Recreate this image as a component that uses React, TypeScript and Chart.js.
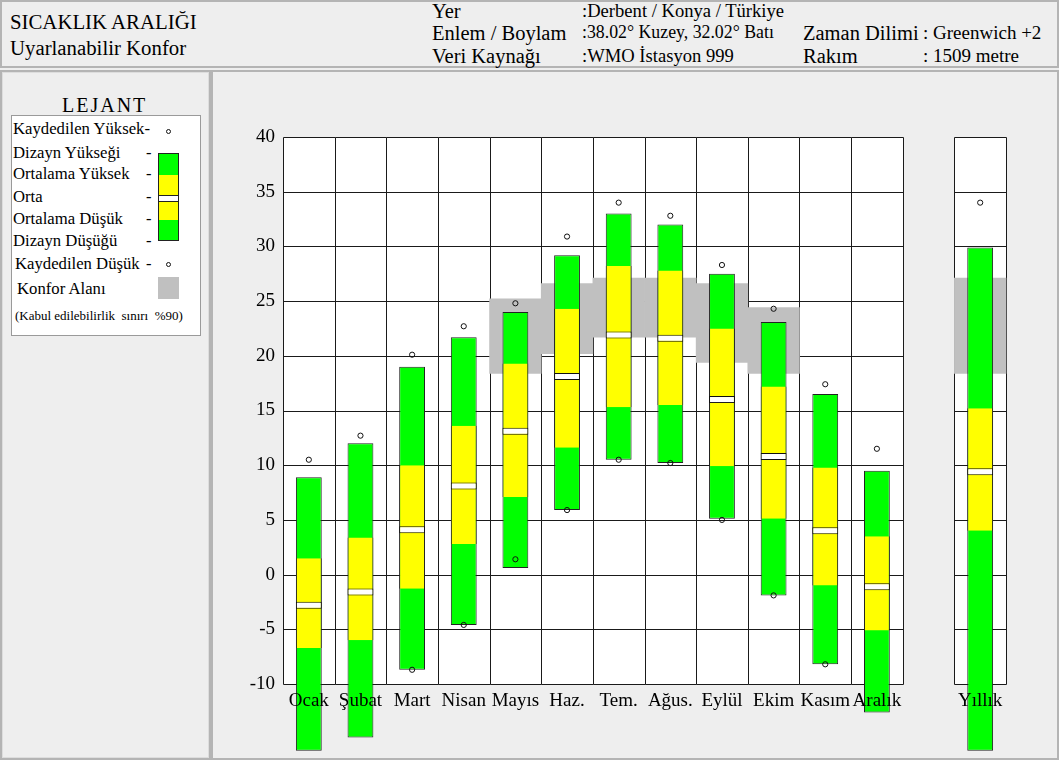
import React, { useEffect, useRef } from 'react';
import { Chart, registerables } from 'chart.js';

Chart.register(...registerables);

// ---------- data ----------
const categories = ['Ocak', 'Şubat', 'Mart', 'Nisan', 'Mayıs', 'Haz.', 'Tem.', 'Ağus.', 'Eylül', 'Ekim', 'Kasım', 'Aralık', '', 'Yıllık'];
const designHigh = [8.9, 12.0, 19.0, 21.7, 24.0, 29.2, 33.0, 32.0, 27.5, 23.1, 16.5, 9.5, null, 29.9];
const avgHigh = [1.5, 3.4, 10.0, 13.6, 19.3, 24.3, 28.2, 27.8, 22.5, 17.2, 9.8, 3.5, null, 15.2];
const meanTemp = [-2.8, -1.6, 4.1, 8.1, 13.1, 18.1, 21.9, 21.6, 16.0, 10.8, 4.0, -1.1, null, 9.4];
const avgLow = [-6.7, -6.0, -1.3, 2.8, 7.1, 11.6, 15.3, 15.5, 9.9, 5.1, -1.0, -5.1, null, 4.0];
const designLow = [-16.1, -14.9, -8.7, -4.6, 0.6, 5.9, 10.5, 10.2, 5.1, -1.9, -8.2, -12.6, null, -16.1];
const recordHigh = [10.5, 12.7, 20.1, 22.7, 24.8, 30.9, 34.0, 32.8, 28.3, 24.3, 17.4, 11.5, null, 34.0];
const recordLow = [-16.1, -14.9, -8.7, -4.6, 1.4, 5.9, 10.5, 10.2, 5.0, -1.9, -8.2, -12.6, null, -16.1];
const comfortHigh = [null, null, null, null, 25.2, 26.6, 27.1, 27.1, 26.6, 24.4, null, null, null, 27.1];
const comfortLow = [null, null, null, null, 18.4, 20.2, 21.7, 21.7, 19.4, 18.4, null, null, null, 18.4];
const yTicks = [-10, -5, 0, 5, 10, 15, 20, 25, 30, 35, 40];
const meanHalfBand = 0.32;

// ---------- styles ----------
const GREEN = '#00ff00';
const YELLOW = '#ffff00';
const COMFORT = '#c0c0c0';
const BG = '#eeeeee';
const PANEL_BORDER = '#b4b4b4';
const FONT = '"Liberation Serif", "Times New Roman", serif';

const range = (lo: (number | null)[], hi: (number | null)[]) =>
  lo.map((l, i) => (l == null || hi[i] == null ? null : [l, hi[i] as number]));

const columnGrid = {
  id: 'columnGrid',
  beforeDatasetsDraw(chart: any) {
    const { ctx, chartArea, scales } = chart;
    const x = scales.x;
    const y = scales.y;
    const half = (x.getPixelForValue(1) - x.getPixelForValue(0)) / 2;
    ctx.save();
    categories.forEach((c, i) => {
      if (c === '') return;
      const cx = x.getPixelForValue(i);
      const l = Math.round(cx - half) + 0.5;
      const r = Math.round(cx + half) + 0.5;
      const t = Math.round(chartArea.top) + 0.5;
      const b = Math.round(chartArea.bottom) + 0.5;
      ctx.fillStyle = '#ffffff';
      ctx.fillRect(l, t, r - l, b - t);
      ctx.strokeStyle = '#1a1a1a';
      ctx.lineWidth = 1;
      ctx.beginPath();
      y.ticks.forEach((tk: any) => {
        const py = Math.round(y.getPixelForValue(tk.value)) + 0.5;
        ctx.moveTo(l, py);
        ctx.lineTo(r, py);
      });
      ctx.moveTo(l, t);
      ctx.lineTo(l, b);
      ctx.moveTo(r, t);
      ctx.lineTo(r, b);
      ctx.stroke();
    });
    ctx.restore();
  },
};

function TempChart() {
  const ref = useRef<HTMLCanvasElement>(null);
  useEffect(() => {
    if (!ref.current) return;
    const barCommon = {
      type: 'bar' as const,
      grouped: false,
      categoryPercentage: 1,
      borderSkipped: false,
      clip: false as const,
    };
    const chart = new Chart(ref.current, {
      type: 'bar',
      data: {
        labels: categories,
        datasets: [
          {
            ...barCommon,
            label: 'Konfor Alanı',
            data: range(comfortLow, comfortHigh) as any,
            backgroundColor: COMFORT,
            borderWidth: 0,
            barPercentage: 1,
            order: 6,
          },
          {
            ...barCommon,
            label: 'Dizayn',
            data: range(designLow, designHigh) as any,
            backgroundColor: GREEN,
            borderColor: '#222',
            borderWidth: 1,
            barPercentage: 0.5,
            order: 5,
          },
          {
            ...barCommon,
            label: 'Ortalama',
            data: range(avgLow, avgHigh) as any,
            backgroundColor: YELLOW,
            borderColor: '#222',
            borderWidth: { left: 1, right: 1, top: 0, bottom: 0 },
            barPercentage: 0.5,
            order: 4,
          },
          {
            ...barCommon,
            label: 'Orta',
            data: meanTemp.map((m) => (m == null ? null : [m - meanHalfBand, m + meanHalfBand])) as any,
            backgroundColor: '#ffffff',
            borderColor: '#111',
            borderWidth: 1,
            barPercentage: 0.5,
            order: 3,
          },
          {
            type: 'line' as const,
            label: 'Kaydedilen Yüksek',
            data: recordHigh as any,
            showLine: false,
            pointRadius: 2.6,
            pointBorderWidth: 1,
            pointBorderColor: '#111',
            pointBackgroundColor: 'rgba(0,0,0,0)',
            clip: false as const,
            order: 2,
          },
          {
            type: 'line' as const,
            label: 'Kaydedilen Düşük',
            data: recordLow as any,
            showLine: false,
            pointRadius: 2.6,
            pointBorderWidth: 1,
            pointBorderColor: '#111',
            pointBackgroundColor: 'rgba(0,0,0,0)',
            clip: false as const,
            order: 1,
          },
        ] as any,
      },
      options: {
        animation: false,
        responsive: false,
        devicePixelRatio: 1,
        layout: { padding: { top: 63, right: 50, left: 0, bottom: 0 } },
        plugins: { legend: { display: false }, tooltip: { enabled: false } },
        scales: {
          x: {
            z: 1,
            grid: { display: false, drawTicks: false },
            border: { display: false },
            ticks: {
              z: 1,
              color: '#000',
              font: { family: FONT, size: 19 },
              padding: 6,
              maxRotation: 0,
              autoSkip: false,
            },
            afterFit: (s: any) => {
              s.height = 73;
            },
          },
          y: {
            min: -10,
            max: 40,
            grid: { display: false, drawTicks: false },
            border: { display: false },
            ticks: {
              color: '#000',
              font: { family: FONT, size: 19 },
              padding: 8,
            },
            afterBuildTicks: (s: any) => {
              s.ticks = yTicks.map((v) => ({ value: v }));
            },
            afterFit: (s: any) => {
              s.width = 68;
            },
          },
        },
      },
      plugins: [columnGrid],
    } as any);
    return () => chart.destroy();
  }, []);
  return <canvas ref={ref} width={841} height={683} style={{ position: 'absolute', left: 215, top: 74, width: 841, height: 683 }} />;
}

const txt = (
  text: string,
  left: number,
  center: number,
  size: number,
  extra: React.CSSProperties = {}
) => (
  <div
    style={{
      position: 'absolute',
      left,
      top: center - size * 0.6,
      height: size * 1.2,
      lineHeight: `${size * 1.2}px`,
      fontSize: size,
      fontFamily: FONT,
      color: '#000',
      whiteSpace: 'pre',
      ...extra,
    }}
  >
    {text}
  </div>
);

function Header() {
  return (
    <div
      style={{
        position: 'absolute',
        left: 0,
        top: 0,
        width: 1059,
        height: 68,
        boxSizing: 'border-box',
        border: `2px solid ${PANEL_BORDER}`,
        background: BG,
      }}
    >
      <div style={{ position: 'absolute', left: -2, top: -2 }}>
        {txt('SICAKLIK ARALIĞI', 10, 22, 20.8)}
        {txt('Uyarlanabilir Konfor', 10, 48, 20.8)}
        {txt('Yer', 432, 11, 20.5)}
        {txt('Enlem / Boylam', 432, 33, 20.5)}
        {txt('Veri Kaynağı', 432, 56, 20.5)}
        {txt(':Derbent / Konya / Türkiye', 582, 11, 18.6)}
        {txt(':38.02° Kuzey, 32.02° Batı', 582, 33, 17.8)}
        {txt(':WMO İstasyon 999', 582, 56, 18.6)}
        {txt('Zaman Dilimi', 803, 33, 20.5)}
        {txt('Rakım', 803, 56, 20.5)}
        {txt(': Greenwich +2', 923, 33, 19)}
        {txt(': 1509 metre', 923, 56, 19)}
      </div>
    </div>
  );
}

function LegendPanel() {
  const circle = (cy: number) => (
    <div
      style={{
        position: 'absolute',
        left: 166,
        top: cy - 2.5,
        width: 5,
        height: 5,
        borderRadius: '50%',
        border: '1px solid #111',
        boxSizing: 'border-box',
      }}
    />
  );
  return (
    <>
      <div
        style={{
          position: 'absolute',
          left: 0,
          top: 70,
          width: 211,
          height: 690,
          boxSizing: 'border-box',
          border: `2px solid ${PANEL_BORDER}`,
          boxShadow: 'inset 0 0 0 1px #dddddd',
          background: BG,
        }}
      />
      {txt('LEJANT', 62, 105, 20, { letterSpacing: 2 })}
      <div
        style={{
          position: 'absolute',
          left: 11,
          top: 115,
          width: 190,
          height: 221,
          boxSizing: 'border-box',
          border: '1px solid #9a9a9a',
          background: '#ffffff',
        }}
      />
      {txt('Kaydedilen Yüksek-', 13, 129, 16.7)}
      {txt('Dizayn Yükseği', 13, 153, 16.7)}
      {txt('Ortalama Yüksek', 13, 174, 16.7)}
      {txt('Orta', 13, 197, 16.7)}
      {txt('Ortalama Düşük', 13, 219, 16.7)}
      {txt('Dizayn Düşüğü', 13, 241, 16.7)}
      {txt('Kaydedilen Düşük', 15, 264, 16.7)}
      {txt('Konfor Alanı', 17, 289, 16.7)}
      {txt('(Kabul edilebilirlik  sınırı  %90)', 15, 316, 13)}
      {[153, 174, 197, 219, 241, 264].map((c) => (
        <React.Fragment key={c}>{txt('-', 146, c, 16.5)}</React.Fragment>
      ))}
      <div
        style={{
          position: 'absolute',
          left: 158,
          top: 153,
          width: 21,
          height: 88,
          border: '1px solid #222',
          boxSizing: 'border-box',
          overflow: 'hidden',
        }}
      >
        <div style={{ height: 21, background: GREEN }} />
        <div style={{ height: 20, background: YELLOW }} />
        <div style={{ height: 7, background: '#fff', borderTop: '1px solid #222', borderBottom: '1px solid #222', boxSizing: 'border-box' }} />
        <div style={{ height: 18, background: YELLOW }} />
        <div style={{ height: 22, background: GREEN }} />
      </div>
      {circle(131)}
      {circle(264)}
      <div style={{ position: 'absolute', left: 158, top: 277, width: 21, height: 22, background: COMFORT }} />
    </>
  );
}

export default function App() {
  return (
    <div style={{ position: 'absolute', left: 0, top: 0, width: 1059, height: 760, background: BG, overflow: 'hidden' }}>
      <Header />
      <LegendPanel />
      <div
        style={{
          position: 'absolute',
          left: 211,
          top: 70,
          width: 848,
          height: 690,
          boxSizing: 'border-box',
          border: `2px solid ${PANEL_BORDER}`,
          background: BG,
        }}
      />
      <TempChart />
    </div>
  );
}
